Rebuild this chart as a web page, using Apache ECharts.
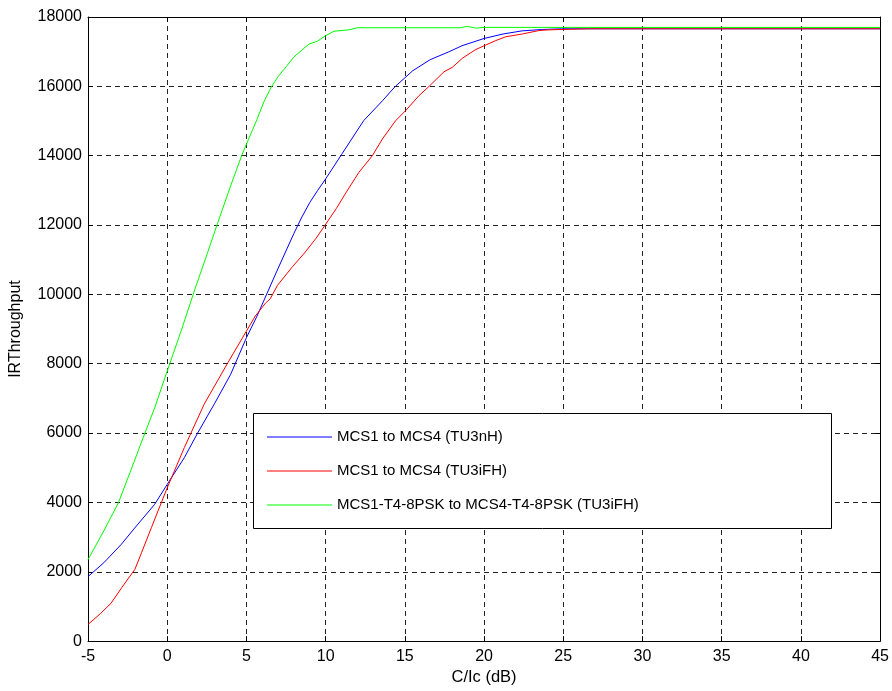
<!DOCTYPE html>
<html>
<head>
<meta charset="utf-8">
<script src="https://cdn.jsdelivr.net/npm/echarts@6/dist/echarts.min.js"></script>
<style>
html,body{margin:0;padding:0;background:#fff;}
#chart{width:892px;height:691px;}
</style>
</head>
<body>
<div id="chart"></div>
<script>
// Data
const seriesNames = [
  'MCS1 to MCS4 (TU3nH)',
  'MCS1 to MCS4 (TU3iFH)',
  'MCS1-T4-8PSK to MCS4-T4-8PSK (TU3iFH)'
];
const xTicks = [-5, 0, 5, 10, 15, 20, 25, 30, 35, 40, 45];
const yTicks = [0, 2000, 4000, 6000, 8000, 10000, 12000, 14000, 16000, 18000];

const blueX = [-5, -4, -2.9, -2, -0.8, 0, 1.08, 1.92, 3, 4, 5, 5.67, 6.92, 8, 8.5, 9, 9.5, 10, 11, 12.4, 13.6, 14.4, 15.5, 16.6, 17.8, 18.6, 20, 21.2, 22.4, 23.7, 24.9, 45];
const blueY = [1860, 2260, 2790, 3290, 3940, 4520, 5290, 6000, 6860, 7690, 8750, 9375, 10670, 11760, 12230, 12650, 13000, 13330, 14030, 15010, 15590, 16000, 16450, 16770, 17000, 17170, 17380, 17510, 17600, 17640, 17660, 17660];

const redX = [-5, -4.2, -3.55, -2.875, -2.04, -1.62, -1, 0, 1.08, 2.33, 3.79, 5, 5.56, 6.21, 6.5, 6.96, 7.91, 8.66, 9.4, 10, 10.68, 11.32, 11.85, 12.1, 12.95, 13.58, 14.42, 15.05, 15.89, 16.53, 17.47, 18, 18.63, 19.47, 20, 20.74, 21.37, 22.42, 23.47, 24.1, 26.6, 45];
const redY = [480, 800, 1090, 1540, 2070, 2550, 3270, 4420, 5580, 6830, 8000, 8940, 9375, 9750, 9870, 10260, 10800, 11190, 11620, 12020, 12480, 12960, 13340, 13520, 14000, 14480, 15010, 15300, 15730, 16000, 16420, 16550, 16810, 17060, 17170, 17320, 17430, 17510, 17610, 17630, 17660, 17660];

const greenX = [-5, -4, -3.08, -2.3, -1.52, -0.79, 0, 0.875, 1.71, 2.44, 3.17, 4, 4.73, 5.67, 6.1, 6.53, 7, 7.5, 8, 8.95, 9.47, 10, 10.53, 11.47, 12, 18.5, 18.95, 19.47, 20, 45];
const greenY = [2350, 3180, 3990, 4920, 5865, 6730, 7790, 8940, 10096, 11060, 12040, 13125, 14040, 15050, 15550, 15950, 16280, 16560, 16850, 17220, 17300, 17460, 17590, 17630, 17690, 17690, 17730, 17680, 17700, 17700];

const colors = ['#0000ff', '#ff0000', '#00ff00'];
const FONT = '"Liberation Sans", Arial, sans-serif';

function pairs(xs, ys) { return xs.map((x, i) => [x, ys[i]]); }

const chart = echarts.init(document.getElementById('chart'), null, {renderer: 'canvas'});

const gridLine = {show: true, lineStyle: {color: '#222', width: 1, type: [5, 4]}};
const axisLineStyle = {show: true, onZero: false, lineStyle: {color: '#000', width: 1}};
const tickStyle = {show: true, inside: true, length: 5, lineStyle: {color: '#000', width: 1}};

chart.setOption({
  animation: false,
  backgroundColor: '#fff',
  textStyle: {fontFamily: FONT},
  grid: {left: 88, right: 10, top: 17, bottom: 45, containLabel: false},
  xAxis: [{
    type: 'value', min: -5, max: 45, interval: 5, position: 'bottom',
    name: 'C/Ic (dB)', nameLocation: 'middle', nameGap: 27,
    nameTextStyle: {color: '#000', fontSize: 16.5, fontFamily: FONT},
    axisLine: axisLineStyle, axisTick: tickStyle,
    axisLabel: {color: '#000', fontSize: 16, fontFamily: FONT, margin: 7,
      formatter: v => String(v)},
    splitLine: gridLine
  }, {
    type: 'value', min: -5, max: 45, interval: 5, position: 'top',
    axisLine: axisLineStyle, axisTick: tickStyle,
    axisLabel: {show: false}, splitLine: {show: false}
  }],
  yAxis: [{
    type: 'value', min: 0, max: 18000, interval: 2000, position: 'left',
    name: 'IRThroughput', nameLocation: 'middle', nameGap: 64,
    nameTextStyle: {color: '#000', fontSize: 16, fontFamily: FONT},
    axisLine: axisLineStyle, axisTick: tickStyle,
    axisLabel: {color: '#000', fontSize: 16, fontFamily: FONT, margin: 6,
      formatter: v => String(v)},
    splitLine: gridLine
  }, {
    type: 'value', min: 0, max: 18000, interval: 2000, position: 'right',
    axisLine: axisLineStyle, axisTick: tickStyle,
    axisLabel: {show: false}, splitLine: {show: false}
  }],
  graphic: [{
    type: 'rect', left: 253, top: 413, z: 3,
    shape: {width: 578, height: 115},
    style: {fill: '#fff', stroke: '#000', lineWidth: 1}
  }],
  legend: {
    orient: 'vertical', left: 253, top: 413, z: 4,
    padding: [14, 14, 14, 14],
    itemWidth: 65, itemHeight: 1, itemGap: 14,
    icon: 'rect',
    textStyle: {color: '#000', fontSize: 15, fontFamily: FONT, lineHeight: 20, padding: [0, 0, 0, 0]},
    data: seriesNames
  },
  series: [
    {name: seriesNames[0], type: 'line', data: pairs(blueX, blueY), showSymbol: false, symbol: 'none',
     lineStyle: {color: colors[0], width: 1}, itemStyle: {color: colors[0]}, z: 2},
    {name: seriesNames[1], type: 'line', data: pairs(redX, redY), showSymbol: false, symbol: 'none',
     lineStyle: {color: colors[1], width: 1}, itemStyle: {color: colors[1]}, z: 2},
    {name: seriesNames[2], type: 'line', data: pairs(greenX, greenY), showSymbol: false, symbol: 'none',
     lineStyle: {color: colors[2], width: 1}, itemStyle: {color: colors[2]}, z: 2}
  ]
});
</script>
</body>
</html>
